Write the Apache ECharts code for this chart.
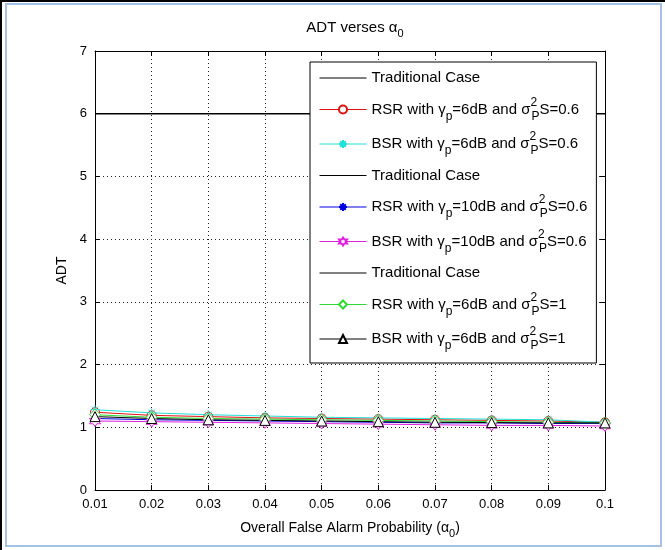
<!DOCTYPE html>
<html>
<head>
<meta charset="utf-8">
<script src="https://cdn.jsdelivr.net/npm/echarts@6/dist/echarts.min.js"></script>
<style>html,body{margin:0;padding:0;background:#fff}#c{width:665px;height:550px}</style>
</head>
<body>
<div id="c"></div>
<script>
const xValues = [0.01, 0.02, 0.03, 0.04, 0.05, 0.06, 0.07, 0.08, 0.09, 0.1];
const yTicks = [0, 1, 2, 3, 4, 5, 6, 7];
const traditional = [6, 6, 6, 6, 6, 6, 6, 6, 6, 6];
const rsr6dB06 = [1.24, 1.19, 1.17, 1.15, 1.14, 1.13, 1.12, 1.11, 1.10, 1.08];
const bsr6dB06 = [1.28, 1.23, 1.20, 1.18, 1.16, 1.15, 1.14, 1.13, 1.12, 1.08];
const rsr10dB06 = [1.14, 1.12, 1.11, 1.10, 1.09, 1.08, 1.07, 1.07, 1.06, 1.06];
const bsr10dB06 = [1.10, 1.09, 1.08, 1.07, 1.06, 1.05, 1.04, 1.03, 1.03, 1.02];
const rsr6dB1 = [1.20, 1.16, 1.14, 1.13, 1.12, 1.11, 1.10, 1.09, 1.08, 1.07];
const bsr6dB1 = [1.17, 1.14, 1.12, 1.11, 1.10, 1.09, 1.08, 1.075, 1.07, 1.07];

const legendLabels = {
  'trad1': 'Traditional Case',
  'rsr6_06': 'RSR with γ{sub|p}=6dB and σ{sup|2}{sub|P}S=0.6',
  'bsr6_06': 'BSR with γ{sub|p}=6dB and σ{sup|2}{sub|P}S=0.6',
  'trad2': 'Traditional Case',
  'rsr10_06': 'RSR with γ{sub|p}=10dB and σ{sup|2}{sub|P}S=0.6',
  'bsr10_06': 'BSR with γ{sub|p}=10dB and σ{sup|2}{sub|P}S=0.6',
  'trad3': 'Traditional Case',
  'rsr6_1': 'RSR with γ{sub|p}=6dB and σ{sup|2}{sub|P}S=1',
  'bsr6_1': 'BSR with γ{sub|p}=6dB and σ{sup|2}{sub|P}S=1'
};

const FONT = "'Liberation Sans', Arial, sans-serif";
const asterisk = 'path://M0,-10L0,10M-10,0L10,0M-7,-7L7,7M-7,7L7,-7';
const hexagram = 'path://M0,-10L2.89,-5L8.66,-5L5.77,0L8.66,5L2.89,5L0,10L-2.89,5L-8.66,5L-5.77,0L-8.66,-5L-2.89,-5Z';

function pts(arr) { return xValues.map((x, i) => [x, arr[i]]); }

function mk(name, arr, color, symbol, fill, size) {
  const noSym = symbol === 'none';
  return {
    name: name, type: 'line', xAxisIndex: 0, yAxisIndex: 0,
    data: pts(arr),
    symbol: noSym ? 'circle' : symbol, symbolSize: size || 8, showSymbol: !noSym,
    lineStyle: { color: color, width: 1 },
    itemStyle: { color: fill, borderColor: color, borderWidth: 1, opacity: noSym ? 0 : 1 },
    emphasis: { disabled: true }
  };
}

const series = [
  mk('trad1', traditional, '#000000', 'none', '#000000'),
  mk('rsr6_06', rsr6dB06, '#e01010', 'circle', '#ffffff', 9),
  mk('bsr6_06', bsr6dB06, '#20e0d8', asterisk, '#20e0d8', 9),
  mk('trad2', traditional, '#000000', 'none', '#000000'),
  mk('rsr10_06', rsr10dB06, '#0000e0', asterisk, '#0000e0', 9),
  mk('bsr10_06', bsr10dB06, '#e020e0', hexagram, '#ffffff', 11),
  mk('trad3', traditional, '#000000', 'none', '#000000'),
  mk('rsr6_1', rsr6dB1, '#30d830', 'diamond', '#ffffff', 11),
  mk('bsr6_1', bsr6dB1, '#000000', 'triangle', '#ffffff', 10)
];

const legendData = series.map(s => {
  const d = { name: s.name };
  if (s.name.indexOf('trad') === 0) d.textStyle = { lineHeight: 20 };
  return d;
});

const chart = echarts.init(document.getElementById('c'), null, { renderer: 'canvas' });
chart.setOption({
  animation: false,
  backgroundColor: '#ffffff',
  textStyle: { fontFamily: FONT },
  title: {
    text: 'ADT verses α{sub|0}',
    left: 350, top: 12, textAlign: 'center',
    textStyle: {
      fontFamily: FONT, fontSize: 15, fontWeight: 'normal', color: '#000',
      lineHeight: 22,
      rich: { sub: { fontSize: 11, verticalAlign: 'bottom', lineHeight: 13, fontFamily: FONT, color: '#000' } }
    }
  },
  grid: { left: 95, right: 60, top: 51, bottom: 60, containLabel: false },
  legend: {
    data: legendData,
    orient: 'vertical',
    left: 310, top: 62,
    padding: [6, 9, 11, 9],
    itemGap: 8.5,
    itemWidth: 47, itemHeight: 10,
    itemTextGap: 4,
    backgroundColor: '#ffffff',
    borderColor: '#000000', borderWidth: 1, borderRadius: 0,
    selectedMode: false,
    lineStyle: { width: 1 },
    formatter: n => legendLabels[n],
    textStyle: {
      fontFamily: FONT, fontSize: 15, color: '#000', lineHeight: 26,
      rich: {
        sub: { fontFamily: FONT, fontSize: 12, color: '#000', verticalAlign: 'bottom', lineHeight: 14 },
        sup: { fontFamily: FONT, fontSize: 12, color: '#000', verticalAlign: 'top', lineHeight: 14, width: 1 }
      }
    }
  },
  xAxis: [
    {
      type: 'value', position: 'bottom', min: 0.01, max: 0.1, interval: 0.01,
      name: 'Overall False Alarm Probability (α{sub|0})', nameLocation: 'middle', nameGap: 27,
      nameTextStyle: {
        fontFamily: FONT, fontSize: 14, color: '#000', lineHeight: 22,
        rich: { sub: { fontFamily: FONT, fontSize: 11, color: '#000', verticalAlign: 'bottom', lineHeight: 13 } }
      },
      axisLine: { show: true, onZero: false, lineStyle: { color: '#000', width: 1 } },
      axisTick: { show: true, inside: true, length: 5, lineStyle: { color: '#000' } },
      axisLabel: { show: true, margin: 8, color: '#000', fontFamily: FONT, fontSize: 13,
        formatter: v => String(parseFloat(Number(v).toFixed(2))) },
      splitLine: { show: true, lineStyle: { color: '#222', width: 1, type: [1, 3] } }
    },
    {
      type: 'value', position: 'top', min: 0.01, max: 0.1, interval: 0.01,
      axisLine: { show: true, onZero: false, lineStyle: { color: '#000', width: 1 } },
      axisTick: { show: true, inside: true, length: 5, lineStyle: { color: '#000' } },
      axisLabel: { show: false }, splitLine: { show: false }
    }
  ],
  yAxis: [
    {
      type: 'value', position: 'left', min: yTicks[0], max: yTicks[yTicks.length - 1], interval: 1,
      name: 'ADT', nameLocation: 'middle', nameGap: 26, nameRotate: 90,
      nameTextStyle: { fontFamily: FONT, fontSize: 14, color: '#000' },
      axisLine: { show: true, onZero: false, lineStyle: { color: '#000', width: 1 } },
      axisTick: { show: true, inside: true, length: 5, lineStyle: { color: '#000' } },
      axisLabel: { show: true, margin: 8, color: '#000', fontFamily: FONT, fontSize: 13 },
      splitLine: { show: true, lineStyle: { color: '#222', width: 1, type: [1, 3] } }
    },
    {
      type: 'value', position: 'right', min: yTicks[0], max: yTicks[yTicks.length - 1], interval: 1,
      axisLine: { show: true, onZero: false, lineStyle: { color: '#000', width: 1 } },
      axisTick: { show: true, inside: true, length: 5, lineStyle: { color: '#000' } },
      axisLabel: { show: false }, splitLine: { show: false }
    }
  ],
  graphic: [
    { type: 'rect', silent: true, z: 100, shape: { x: 0, y: 0, width: 665, height: 2 }, style: { fill: '#000' } },
    { type: 'rect', silent: true, z: 100, shape: { x: 0, y: 0, width: 2, height: 550 }, style: { fill: '#000' } },
    { type: 'rect', silent: true, z: 100, shape: { x: 6, y: 4, width: 655, height: 542 }, style: { fill: 'none', stroke: '#a3c1e6', lineWidth: 2 } }
  ],
  series: series
});
</script>
</body>
</html>
